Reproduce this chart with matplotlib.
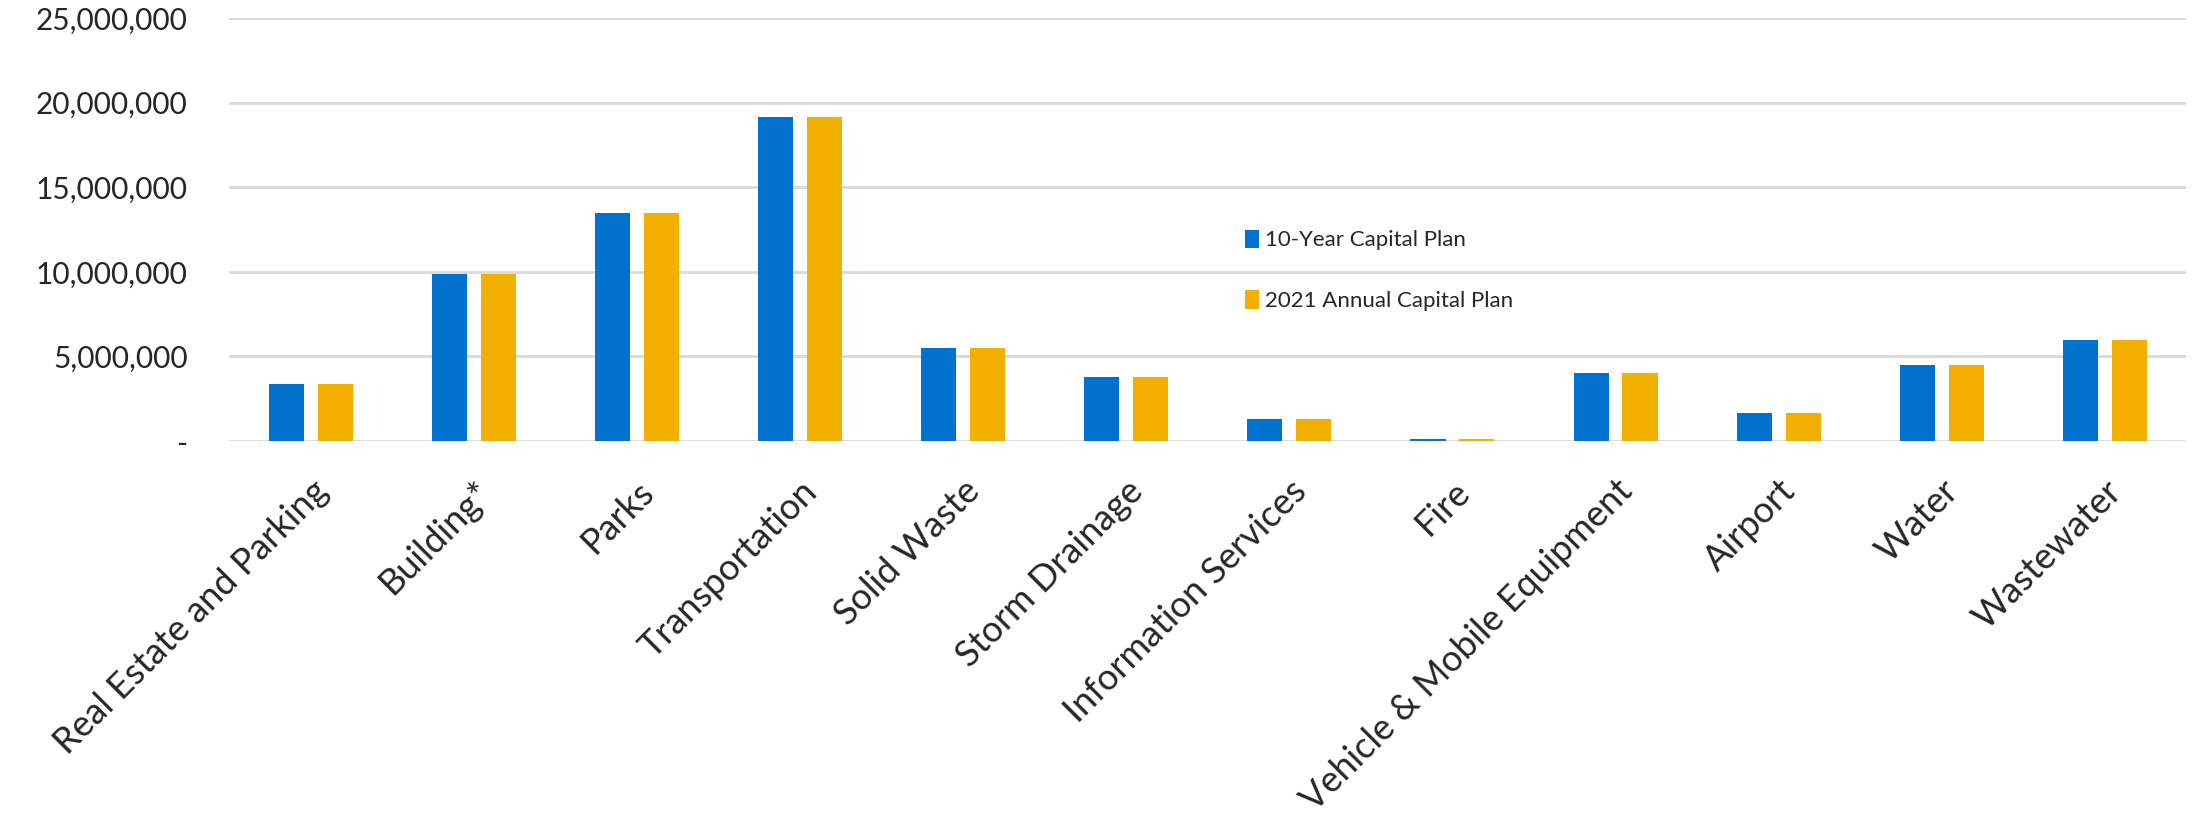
import numpy as np
import matplotlib.pyplot as plt
from matplotlib.ticker import FuncFormatter

# Capital plan by service area
categories = [
    "Real Estate and Parking", "Building*", "Parks", "Transportation",
    "Solid Waste", "Storm Drainage", "Information Services", "Fire",
    "Vehicle & Mobile Equipment", "Airport", "Water", "Wastewater",
]
ten_year_plan = [3360000, 9880000, 13450000, 19130000, 5470000, 3810000,
                 1320000, 140000, 4020000, 1660000, 4470000, 6000000]
annual_2021_plan = [3360000, 9880000, 13450000, 19130000, 5470000, 3810000,
                    1320000, 140000, 4020000, 1660000, 4470000, 6000000]
series_names = ["10-Year Capital Plan", "2021 Annual Capital Plan"]

blue = "#0072CE"
gold = "#F2AF00"
text_color = "#262626"

plt.rcParams['font.family'] = ['Lato', 'DejaVu Sans']

fig = plt.figure(figsize=(22.04, 8.22), dpi=100)
ax = fig.add_axes([0.104, 0.4635, 0.888, 0.5145])

x = np.arange(len(categories))
width = 0.215
offset = 0.15
ax.bar(x - offset, ten_year_plan, width, color=blue, label=series_names[0], zorder=3)
ax.bar(x + offset, annual_2021_plan, width, color=gold, label=series_names[1], zorder=3)

ax.set_xlim(-0.5, len(categories) - 0.5)
ax.set_ylim(0, 25000000)
ax.set_yticks(np.arange(0, 25000001, 5000000))
ax.yaxis.set_major_formatter(FuncFormatter(lambda v, p: "-" if v == 0 else f"{v:,.0f}"))
ax.grid(axis='y', color='#D9D9D9', linewidth=2, zorder=0)
ax.set_axisbelow(True)

for side in ['top', 'right', 'left', 'bottom']:
    ax.spines[side].set_visible(False)

ax.set_xticks(x)
ax.set_xticklabels(categories, rotation=45, ha='right', va='top',
                   rotation_mode='anchor', fontsize=26, color=text_color)
ax.tick_params(axis='x', length=0, pad=24)
ax.tick_params(axis='y', length=0, pad=30, labelsize=21.5, labelcolor=text_color)

leg = ax.legend(loc='upper left', bbox_to_anchor=(0.556, 0.745),
                bbox_transform=fig.transFigure, frameon=False, fontsize=16,
                handlelength=0.6, handleheight=0.9, handletextpad=0.3,
                labelspacing=1.8)
for t in leg.get_texts():
    t.set_color(text_color)

fig.savefig("out.png", dpi=100)
